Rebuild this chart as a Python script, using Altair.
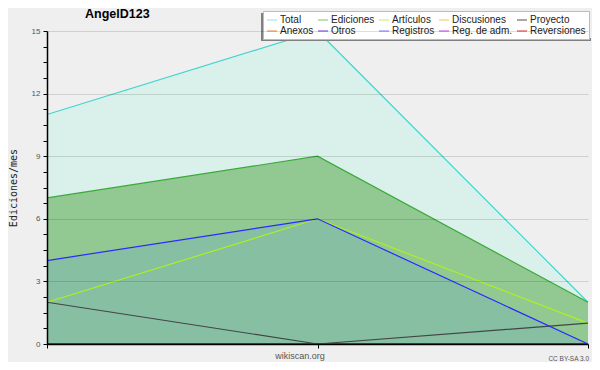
import altair as alt
import pandas as pd

# ---- data ----
periodos = [0, 1, 2]
series = ["Total", "Ediciones", "Artículos", "Discusiones", "Proyecto",
          "Anexos", "Otros", "Registros", "Reg. de adm.", "Reversiones"]
total = [11, 15, 2]
ediciones = [7, 9, 2]
articulos = [2, 6, 1]
discusiones = [0, 0, 0]
proyecto = [2, 0, 1]
anexos = [0, 0, 0]
otros = [0, 0, 0]
registros = [4, 6, 0]
reg_adm = [0, 0, 0]
reversiones = [0, 0, 0]

valores = [total, ediciones, articulos, discusiones, proyecto,
           anexos, otros, registros, reg_adm, reversiones]

rows = []
for s, vals in zip(series, valores):
    for p, v in zip(periodos, vals):
        rows.append({"serie": s, "periodo": p, "valor": v})
df = pd.DataFrame(rows)

# ---- styles ----
legend_colors = ["#9fe3df", "#7fc77f", "#c5f06a", "#f5cd5a", "#5a5a5a",
                 "#f08a4a", "#7a3fd8", "#7f7ff5", "#c84ee0", "#e03a3a"]
line_colors = ["#40d6cf", "#38aa38", "#aef01e", "#f0b000", "#444444",
               "#f06000", "#6000d0", "#2a2aff", "#c000e0", "#e00000"]
filled = ["Total", "Ediciones", "Registros"]
fill_colors = ["#daf0ea", "#92c992", "#87bfa3"]
bg = "#efeff0"
font = "Liberation Sans"

x_enc = alt.X("periodo:Q",
              scale=alt.Scale(domain=[0, 2], nice=False, zero=False),
              axis=alt.Axis(values=[0, 1, 2], labels=False, title=None, grid=False,
                            domainColor="black", domainWidth=1.5, tickColor="black",
                            tickSize=4, tickWidth=1, zindex=1))
y_enc = alt.Y("valor:Q",
              scale=alt.Scale(domain=[0, 15], nice=False),
              axis=alt.Axis(values=[i * 0.75 for i in range(21)],
                            labelExpr="datum.value % 3 === 0 ? format(datum.value, 'd') : ''",
                            labelFont=font, labelFontSize=8, labelColor="#555",
                            labelPadding=3,
                            domainColor="black", domainWidth=1.5,
                            tickColor="black", tickSize=4, tickWidth=1,
                            grid=True, gridColor="#000",
                            gridOpacity={"condition": {"test": "datum.value % 3 === 0", "value": 0.13}, "value": 0},
                            title="Ediciones/mes", titleFont="DejaVu Sans Mono",
                            titleFontSize=10, titleFontWeight="normal", titleColor="#222",
                            titleAngle=270, titleX=-34, titleY=156.5,
                            titleAlign="center", titleBaseline="middle", zindex=1))

base = alt.Chart(df)

areas = []
for s, c in zip(filled, fill_colors):
    areas.append(
        base.transform_filter(alt.datum.serie == s)
        .mark_area(color=c, opacity=1, line=False)
        .encode(x=x_enc, y=y_enc)
    )

lines = base.mark_line(strokeWidth=1.2).encode(
    x=x_enc, y=y_enc,
    color=alt.Color("serie:N", scale=alt.Scale(domain=series, range=line_colors), legend=None),
)

legend_layer = base.mark_point(size=0, filled=False).encode(
    x=x_enc, y=y_enc,
    color=alt.Color("serie:N",
                    scale=alt.Scale(domain=series, range=legend_colors),
                    legend=alt.Legend(orient="none", legendX=216, legendY=-20,
                                      columns=5, direction="horizontal",
                                      symbolType="stroke", symbolSize=100,
                                      symbolStrokeWidth=1.5,
                                      labelFont=font, labelFontSize=10,
                                      labelColor="#222", labelOffset=2,
                                      fillColor="white", strokeColor="#bbbbbb",
                                      padding=3, rowPadding=0, columnPadding=1,
                                      title=None)),
)

one = alt.Data(values=[{}])
shadow_bottom = alt.Chart(one).mark_rule(color="#808080", strokeWidth=3).encode(
    x=alt.value(214), x2=alt.value(544), y=alt.value(8.5))
shadow_left = alt.Chart(one).mark_rule(color="#808080", strokeWidth=2).encode(
    x=alt.value(215), y=alt.value(-18), y2=alt.value(10))
title = alt.Chart(one).mark_text(text="AngelD123", font=font, fontSize=12.5,
                                 fontWeight="bold", color="black", align="left",
                                 baseline="alphabetic").encode(
    x=alt.value(38), y=alt.value(-13))
site = alt.Chart(one).mark_text(text="wikiscan.org", font=font, fontSize=9,
                                color="#555", align="center", baseline="alphabetic").encode(
    x=alt.value(253), y=alt.value(328))
lic = alt.Chart(one).mark_text(text="CC BY-SA 3.0", font=font, fontSize=6.5,
                               color="#555", align="right", baseline="alphabetic").encode(
    x=alt.value(542), y=alt.value(330))

chart = alt.layer(*areas, lines, legend_layer, shadow_bottom, shadow_left,
                  title, site, lic).resolve_scale(
    color="independent"
).properties(
    width=541, height=313,
    background=bg,
    padding={"left": 39, "top": 23, "right": 4, "bottom": 18},
    autosize=alt.AutoSizeParams(type="none"),
).configure_view(stroke=None)

chart.save("out.html", embed_options={"renderer": "svg", "actions": False})
